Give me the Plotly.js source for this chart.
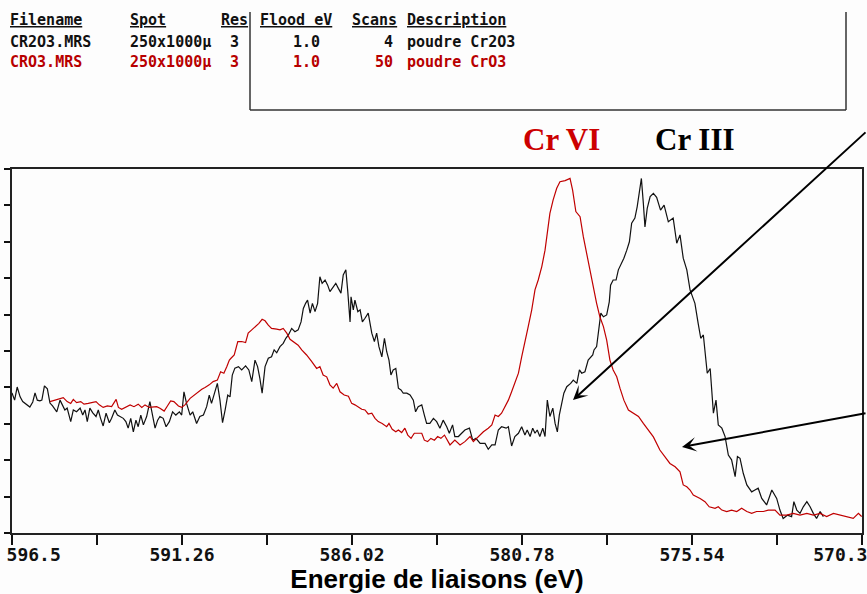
<!DOCTYPE html>
<html><head><meta charset="utf-8">
<script src="https://cdn.plot.ly/plotly-3.0.1.min.js"></script>
<style>html,body{margin:0;padding:0;background:#fdfdfd}#chart{width:867px;height:594px}</style>
</head><body><div id="chart"></div>
<script>
// Cr2O3 spectrum (black) - binding energy (eV) and intensity (a.u.)
const energyCr2O3 = [
596.50,596.42,596.34,596.25,596.17,596.05,595.95,595.86,595.79,595.72,
595.64,595.58,595.50,595.41,595.33,595.25,595.12,595.02,594.94,594.87,
594.80,594.69,594.61,594.51,594.40,594.32,594.25,594.18,594.10,594.01,
593.91,593.84,593.77,593.69,593.60,593.50,593.43,593.33,593.25,593.17,
593.07,592.99,592.92,592.84,592.76,592.68,592.61,592.53,592.45,592.35,
592.25,592.16,592.09,592.01,591.94,591.84,591.75,591.65,591.55,591.45,
591.34,591.27,591.20,591.12,591.01,590.93,590.81,590.71,590.60,590.50,
590.42,590.35,590.24,590.17,590.09,590.01,589.93,589.85,589.78,589.71,
589.63,589.52,589.42,589.30,589.20,589.11,589.01,588.93,588.86,588.79,
588.70,588.60,588.50,588.42,588.34,588.24,588.14,588.06,587.98,587.88,
587.78,587.68,587.59,587.52,587.45,587.39,587.31,587.24,587.16,587.08,
587.01,586.94,586.85,586.77,586.70,586.63,586.52,586.44,586.36,586.29,
586.21,586.15,586.08,586.05,585.98,585.93,585.84,585.77,585.70,585.62,
585.52,585.41,585.33,585.26,585.19,585.10,585.02,584.95,584.88,584.82,
584.75,584.67,584.59,584.51,584.44,584.33,584.23,584.13,584.06,583.98,
583.87,583.79,583.72,583.62,583.51,583.41,583.31,583.21,583.10,583.02,
582.92,582.85,582.74,582.64,582.54,582.40,582.30,582.20,582.07,581.92,
581.82,581.71,581.61,581.51,581.41,581.27,581.20,581.10,581.00,580.89,
580.79,580.69,580.62,580.53,580.45,580.38,580.31,580.23,580.14,580.07,
580.00,579.92,579.83,579.76,579.69,579.63,579.56,579.49,579.40,579.28,
579.20,579.09,579.01,578.94,578.84,578.74,578.60,578.56,578.48,578.43,
578.35,578.27,578.17,578.09,578.05,577.97,577.88,577.81,577.71,577.64,
577.55,577.47,577.40,577.30,577.23,577.16,577.10,577.04,576.99,576.92,
576.83,576.73,576.63,576.51,576.40,576.27,576.12,576.01,575.91,575.81,
575.70,575.60,575.45,575.35,575.27,575.19,575.11,575.07,574.98,574.88,
574.80,574.73,574.62,574.52,574.42,574.32,574.21,574.14,574.06,573.96,
573.85,573.70,573.60,573.50,573.39,573.24,573.08,572.93,572.83,572.73,
572.60,572.47,572.40,572.31,572.21,572.11,572.00,571.90,571.80,571.70,571.59,571.49
];
const intensityCr2O3 = [
3.85,3.65,4.01,3.74,3.61,3.52,3.46,3.60,3.85,3.65,
3.63,3.65,4.04,3.96,3.57,3.49,3.33,3.65,3.52,3.38,
3.43,3.06,3.38,3.33,3.43,3.24,3.38,3.06,3.43,3.30,
3.20,3.38,3.15,2.94,3.29,3.03,3.15,3.38,3.24,3.20,
3.15,3.06,2.88,3.15,2.78,3.10,2.92,3.24,2.97,3.20,
3.61,3.20,2.88,3.10,3.20,3.15,2.92,3.06,3.33,3.24,
3.33,3.24,3.88,3.56,3.24,3.33,3.01,3.20,3.24,3.47,
3.79,3.56,3.93,4.11,3.65,3.03,3.38,3.79,3.74,4.34,
4.53,4.57,4.48,4.59,4.48,4.16,4.75,4.57,4.25,3.84,
4.57,4.80,4.84,5.03,4.95,5.12,5.21,5.35,5.44,5.62,
5.53,5.58,5.80,6.17,6.31,6.40,6.04,6.31,6.08,6.31,
7.04,6.86,6.95,6.81,6.63,6.72,6.86,6.72,6.59,7.09,
7.23,6.63,5.80,6.49,6.13,6.40,6.08,6.13,5.80,5.90,
6.04,5.49,5.26,5.49,5.12,4.84,5.35,4.98,4.75,4.34,
4.48,4.52,3.98,3.93,3.84,3.84,3.79,3.65,3.33,3.47,
3.52,3.24,3.01,3.01,3.15,3.06,2.88,3.10,2.92,2.74,
2.97,2.65,2.65,2.74,2.83,2.88,2.55,2.60,2.46,2.46,
2.30,2.42,2.42,2.83,2.92,2.88,2.92,2.39,2.65,2.74,
2.92,2.69,2.83,2.65,2.88,2.74,2.83,2.65,2.88,2.65,
3.65,3.20,3.43,3.01,2.78,3.24,3.56,3.84,4.02,4.11,
4.20,4.11,4.48,4.39,4.43,4.75,4.89,5.03,5.12,5.49,
6.04,5.94,5.99,6.35,6.81,6.95,6.95,7.23,7.41,7.55,
7.77,8.00,8.51,8.65,8.96,9.42,9.74,9.06,8.41,8.92,
9.24,9.33,9.22,8.87,9.01,8.55,8.65,7.96,8.19,7.55,
7.23,6.68,6.31,5.76,5.35,5.44,4.84,4.39,4.52,3.29,
3.65,2.97,2.88,2.65,2.14,2.01,1.55,2.10,2.05,1.64,
1.32,1.13,1.18,1.23,0.95,0.77,1.18,0.95,0.63,0.40,
0.49,0.45,0.86,0.63,0.54,0.72,0.86,0.72,0.54,0.40,0.59,0.45
];
// CrO3 spectrum (red)
const energyCrO3 = [
595.33,595.17,595.02,594.92,594.80,594.69,594.61,594.51,594.38,594.28,
594.15,594.01,593.91,593.81,593.69,593.56,593.43,593.29,593.22,593.12,
592.99,592.86,592.74,592.61,592.50,592.40,592.27,592.14,592.04,591.94,
591.81,591.71,591.61,591.51,591.37,591.27,591.17,591.01,590.89,590.76,
590.65,590.55,590.42,590.30,590.17,590.07,589.97,589.88,589.80,589.75,
589.65,589.54,589.42,589.30,589.22,589.11,588.99,588.89,588.79,588.70,
588.60,588.50,588.34,588.24,588.14,588.03,587.93,587.78,587.68,587.57,
587.42,587.26,587.11,587.01,586.91,586.80,586.70,586.60,586.49,586.39,
586.26,586.13,586.03,585.93,585.83,585.72,585.62,585.52,585.41,585.31,
585.21,585.09,584.95,584.88,584.78,584.67,584.59,584.49,584.39,584.30,
584.20,584.10,583.98,583.87,583.79,583.69,583.59,583.48,583.38,583.28,
583.17,583.00,582.85,582.69,582.54,582.38,582.28,582.13,581.97,581.82,
581.71,581.61,581.51,581.41,581.30,581.20,581.10,581.00,580.89,580.79,
580.69,580.60,580.48,580.38,580.28,580.17,580.07,580.00,579.92,579.82,
579.71,579.61,579.45,579.30,579.22,579.12,578.99,578.89,578.79,578.68,
578.58,578.48,578.38,578.27,578.17,578.07,577.97,577.86,577.76,577.64,
577.50,577.35,577.19,577.04,576.89,576.73,576.53,576.37,576.22,576.06,
575.91,575.81,575.70,575.60,575.50,575.29,575.14,575.01,574.83,574.73,
574.62,574.47,574.32,574.16,574.01,573.85,573.70,573.55,573.34,573.19,
572.98,572.83,572.62,572.42,572.21,572.00,571.80,571.59,571.39,571.18,
570.98,570.77,570.57,570.41,570.31
];
const intensityCrO3 = [
3.61,3.65,3.70,3.72,3.61,3.56,3.67,3.58,3.61,3.54,
3.56,3.58,3.61,3.52,3.45,3.49,3.47,3.67,3.45,3.40,
3.47,3.52,3.47,3.54,3.45,3.52,3.45,3.45,3.47,3.43,
3.35,3.49,3.63,3.61,3.49,3.45,3.52,3.70,3.79,3.88,
3.95,4.00,4.07,4.16,4.20,4.43,4.39,4.57,4.75,4.80,
4.89,5.26,5.26,5.23,5.49,5.58,5.67,5.76,5.87,5.83,
5.71,5.62,5.60,5.58,5.62,5.49,5.32,5.21,5.16,5.03,
4.89,4.71,4.52,4.57,4.34,4.29,4.07,3.98,4.11,3.88,
3.79,3.76,3.56,3.52,3.47,3.40,3.38,3.27,3.29,3.15,
3.06,3.01,2.92,3.01,2.85,2.78,2.83,2.76,2.88,2.69,
2.60,2.74,2.74,2.74,2.55,2.51,2.60,2.55,2.65,2.60,
2.69,2.42,2.55,2.42,2.51,2.65,2.51,2.65,2.78,2.88,
2.97,3.24,3.20,3.29,3.47,3.65,3.88,4.11,4.39,4.84,
5.21,5.62,6.13,6.68,6.95,7.32,7.77,8.23,8.78,9.15,
9.47,9.65,9.68,9.74,9.42,8.83,8.69,8.14,7.68,7.23,
6.77,6.31,5.94,5.67,5.30,4.75,4.48,4.29,3.98,3.65,
3.38,3.29,3.20,3.01,2.83,2.64,2.28,2.10,1.91,1.82,
1.68,1.32,1.27,1.18,1.04,0.95,0.86,0.72,0.68,0.72,
0.63,0.59,0.63,0.59,0.68,0.59,0.54,0.59,0.59,0.63,
0.63,0.49,0.49,0.54,0.49,0.54,0.49,0.54,0.45,0.54,
0.49,0.45,0.40,0.54,0.45
];
// Axis ticks
const xTickVals = [596.5,593.88,591.26,588.64,586.02,583.4,580.78,578.16,575.54,572.92,570.3];
const xTickText = ['596.5','','591.26','','586.02','','580.78','','575.54','','570.3'];
const yTickVals = [0,1,2,3,4,5,6,7,8,9,10];
// Header table
const tableHeader = ['Filename','Spot','Res','Flood eV','Scans','Description'];
const tableRow1 = ['CR2O3.MRS','250x1000\u00b5','3','1.0','4','poudre Cr2O3'];
const tableRow2 = ['CRO3.MRS','250x1000\u00b5','3','1.0','50','poudre CrO3'];
const peakLabels = ['Cr VI','Cr III'];
const axisTitle = 'Energie de liaisons (eV)';

const NB = '\u00a0\u00a0\u00a0\u00a0';
const tickText = xTickText.map((t,i)=> i===0 ? NB+t : (i===xTickText.length-1 ? t+NB : t));

const L=12, R=862, T=169, B=533;
const fx = x => (x-L)/(R-L);
const fy = y => (B-y)/(B-T);

const RED='#c00000', TXTRED='#b80000';
const mono = 'DejaVu Sans Mono, monospace';
const ann = [];
function cell(text, x, y, anchor, color){
  ann.push({xref:'paper', yref:'paper', x:fx(x), y:fy(y), xanchor:anchor, yanchor:'middle',
    text:'<b>'+text+'</b>', showarrow:false, font:{family:mono, size:15, color:color}});
}
const hdrX=[8,128,219,258,350,405];
tableHeader.forEach((t,i)=>cell('<u>'+t+'</u>', hdrX[i], 20, 'left', '#111'));
const rowX=[8,128,234,322,395,405];
const rowA=['left','left','center','right','right','left'];
tableRow1.forEach((t,i)=>cell(t,rowX[i],42,rowA[i],'#111'));
tableRow2.forEach((t,i)=>cell(t,rowX[i],62,rowA[i],TXTRED));

ann.push({xref:'paper',yref:'paper',x:fx(521),y:fy(139),xanchor:'left',yanchor:'middle',showarrow:false,
  text:'<b>'+peakLabels[0]+'</b>',font:{family:'Liberation Serif, Times New Roman, serif',size:31,color:'#cc0000'}});
ann.push({xref:'paper',yref:'paper',x:fx(653),y:fy(139),xanchor:'left',yanchor:'middle',showarrow:false,
  text:'<b>'+peakLabels[1]+'</b>',font:{family:'Liberation Serif, Times New Roman, serif',size:31,color:'#000'}});
// arrows
ann.push({xref:'paper',yref:'paper',x:fx(573),y:fy(400),ax:297,ay:-269,text:'',showarrow:true,
  arrowhead:3,arrowsize:1.2,arrowwidth:2,arrowcolor:'#000',standoff:0});
ann.push({xref:'paper',yref:'paper',x:fx(682),y:fy(447),ax:193,ay:-34,text:'',showarrow:true,
  arrowhead:3,arrowsize:1.2,arrowwidth:2,arrowcolor:'#000',standoff:0});

const shapes = [
  {type:'line',xref:'paper',yref:'paper',x0:fx(250),x1:fx(250),y0:fy(12),y1:fy(110),line:{color:'#333',width:1.5}},
  {type:'line',xref:'paper',yref:'paper',x0:fx(250),x1:fx(846),y0:fy(110),y1:fy(110),line:{color:'#333',width:1.5}},
  {type:'line',xref:'paper',yref:'paper',x0:fx(846),x1:fx(846),y0:fy(12),y1:fy(110),line:{color:'#333',width:1.5}}
];

const traces = [
  {x:energyCr2O3, y:intensityCr2O3, type:'scatter', mode:'lines', name:'CR2O3.MRS',
   line:{color:'#111', width:1.2}},
  {x:energyCrO3, y:intensityCrO3, type:'scatter', mode:'lines', name:'CRO3.MRS',
   line:{color:RED, width:1.2}}
];

const layout = {
  width:867, height:594,
  margin:{l:L, r:867-R, t:T, b:594-B, pad:0},
  paper_bgcolor:'#fdfdfd', plot_bgcolor:'#fdfdfd',
  showlegend:false,
  xaxis:{range:[596.5,570.3], autorange:false, tickmode:'array', tickvals:xTickVals, ticktext:tickText,
    ticks:'outside', ticklen:10, tickwidth:2, tickcolor:'#111', tickangle:0,
    ticklabeloverflow:'allow', ticklabelstandoff:-6,
    showline:true, linecolor:'#222', linewidth:2, mirror:true, showgrid:false, zeroline:false,
    tickfont:{family:mono, size:18, color:'#111', weight:'bold'},
    title:{text:'<b>'+axisTitle+'</b>', font:{family:'Liberation Sans, Arial, sans-serif', size:26, color:'#000'}, standoff:6}},
  yaxis:{range:[0,10], autorange:false, tickmode:'array', tickvals:yTickVals, showticklabels:false,
    ticks:'outside', ticklen:6, tickwidth:2, tickcolor:'#111',
    showline:true, linecolor:'#222', linewidth:2, mirror:true, showgrid:false, zeroline:false},
  annotations:ann, shapes:shapes
};
Plotly.newPlot('chart', traces, layout, {displayModeBar:false, staticPlot:true});
</script></body></html>
